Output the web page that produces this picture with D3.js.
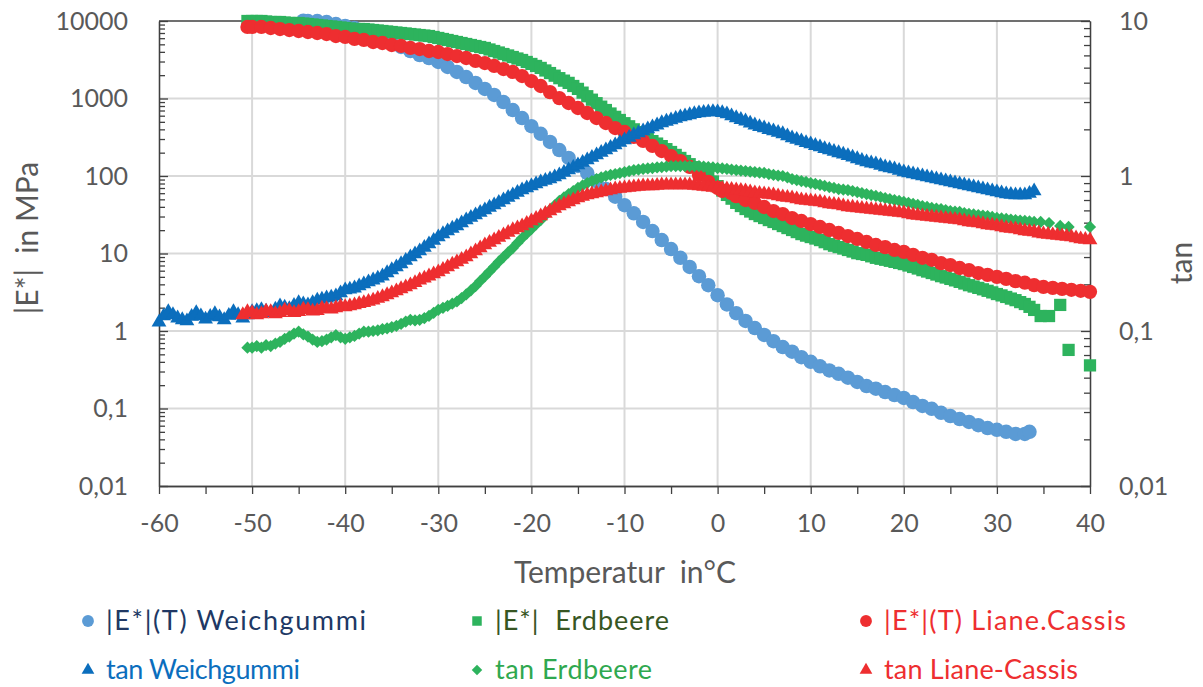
<!DOCTYPE html>
<html>
<head>
<meta charset="utf-8">
<script src="https://cdn.jsdelivr.net/npm/d3@7"></script>
<style>
body { margin: 0; background: #fff; }
svg text { font-family: Lato, "Open Sans", sans-serif; }
</style>
</head>
<body>
<svg id="chart" width="1203" height="687"></svg>
<script>
// |E*| in MPa (left axis), [temperature, value]
var eWeich = [[-44.5,10100],[-44,10000],[-43,10000],[-42,9700],[-41,9140],[-40,8620],[-39,8120],[-38,7430],[-37,6790],[-36,6040],[-35,5200],[-34,4620],[-33,4100],[-32,3640],[-31,3330],[-30,2960],[-29,2550],[-28,2200],[-27,1890],[-26,1590],[-25,1330],[-24,1110],[-23,900],[-22,710],[-21,560],[-20,440],[-19,350],[-18,275],[-17,216],[-16,171],[-15,135],[-14,109],[-13,86],[-12,68],[-11,54],[-10,42],[-9,33],[-8,25.5],[-7,19.5],[-6,14.9],[-5,11.4],[-4,8.8],[-3,6.7],[-2,5.1],[-1,3.9],[0,2.9],[1,2.2],[2,1.7],[3,1.35],[4,1.09],[5,0.89],[6,0.74],[7,0.62],[8,0.54],[9,0.46],[10,0.40],[11,0.35],[12,0.31],[13,0.28],[14,0.25],[15,0.22],[16,0.195],[17,0.18],[18,0.163],[19,0.149],[20,0.137],[21,0.121],[22,0.108],[23,0.099],[24,0.088],[25,0.080],[26,0.073],[27,0.067],[28,0.061],[29,0.056],[30,0.053],[31,0.050],[32,0.047],[33,0.047],[33.5,0.050]];
var eErd = [[-50.5,10000],[-50,10000],[-49.5,10000],[-49,10000],[-48.5,9850],[-48,9700],[-47.5,9700],[-47,9700],[-46.5,9560],[-46,9420],[-45.5,9420],[-45,9420],[-44.5,9280],[-44,9140],[-43.5,9010],[-43,8880],[-42.5,8750],[-42,8620],[-41.5,8500],[-41,8370],[-40.5,8250],[-40,8120],[-39.5,8000],[-39,7880],[-38.5,7880],[-38,7880],[-37.5,7760],[-37,7650],[-36.5,7540],[-36,7430],[-35.5,7320],[-35,7210],[-34.5,7100],[-34,7000],[-33.5,6900],[-33,6790],[-32.5,6690],[-32,6590],[-31.5,6490],[-31,6400],[-30.5,6220],[-30,6040],[-29.5,5860],[-29,5690],[-28.5,5520],[-28,5360],[-27.5,5200],[-27,5050],[-26.5,4900],[-26,4760],[-25.5,4620],[-25,4490],[-24.5,4290],[-24,4100],[-23.5,3920],[-23,3750],[-22.5,3590],[-22,3430],[-21.5,3280],[-21,3140],[-20.5,2960],[-20,2790],[-19.5,2630],[-19,2480],[-18.5,2300],[-18,2130],[-17.5,1970],[-17,1830],[-16.5,1700],[-16,1590],[-15.5,1450],[-15,1330],[-14.5,1190],[-14,1070],[-13.5,965],[-13,870],[-12.5,785],[-12,710],[-11.5,640],[-11,580],[-10.5,528],[-10,480],[-9.5,438],[-9,400],[-8.5,368],[-8,338],[-7.5,308],[-7,282],[-6.5,262],[-6,243],[-5.5,222],[-5,204],[-4.5,187],[-4,171],[-3.5,156],[-3,142],[-2.5,130],[-2,119],[-1.5,108],[-1,97],[-0.5,85],[0,74],[0.5,65],[1,57],[1.5,51],[2,45],[2.5,41],[3,37.5],[3.5,34.8],[4,32.3],[4.5,30.4],[5,28.7],[5.5,27],[6,25.5],[6.5,24],[7,22.6],[7.5,21.3],[8,20.1],[8.5,18.9],[9,17.8],[9.5,17],[10,16.3],[10.5,15.6],[11,14.9],[11.5,14],[12,13.2],[12.5,12.6],[13,12.1],[13.5,11.6],[14,11.1],[14.5,10.6],[15,10.1],[15.5,9.85],[16,9.6],[16.5,9.2],[17,8.8],[17.5,8.55],[18,8.3],[18.5,8.05],[19,7.8],[19.5,7.55],[20,7.3],[20.5,7.0],[21,6.7],[21.5,6.4],[22,6.1],[22.5,5.85],[23,5.6],[23.5,5.35],[24,5.1],[24.5,4.9],[25,4.7],[25.5,4.5],[26,4.3],[26.5,4.1],[27,3.9],[27.5,3.75],[28,3.6],[28.5,3.45],[29,3.3],[29.5,3.15],[30,3.0],[30.5,2.88],[31,2.75],[31.5,2.62],[32,2.5],[32.5,2.36],[33,2.23],[33.5,2.05],[34,1.87],[34.7,1.56],[35.6,1.56],[36.8,2.17],[37.7,0.57],[40,0.36]];
var eLiane = [[-50.5,8370],[-50,8370],[-49,8370],[-48,8120],[-47,7880],[-46,7650],[-45,7430],[-44,7210],[-43,7000],[-42,6790],[-41,6400],[-40,6220],[-39,5860],[-38,5690],[-37,5360],[-36,5200],[-35,4900],[-34,4760],[-33,4490],[-32,4350],[-31,4100],[-30,3980],[-29,3750],[-28,3530],[-27,3330],[-26,3050],[-25,2870],[-24,2630],[-23,2400],[-22,2200],[-21,1950],[-20,1680],[-19,1450],[-18,1210],[-17,1010],[-16,875],[-15,754],[-14,650],[-13,560],[-12,483],[-11,416],[-10,370],[-9,319],[-8,283],[-7,244],[-6,210],[-5,181],[-4,156],[-3,131],[-2,103],[-1,84],[0,70],[0.5,64],[1.5,60],[2,55],[3,49],[4,44.9],[5,39.8],[6,35.3],[7,32.3],[8,28.7],[9,26.3],[10,24.0],[11,22.0],[12,20.1],[13,18.4],[14,16.8],[15,15.4],[16,14.1],[17,12.9],[18,12.1],[19,11.1],[20,10.5],[21,9.6],[22,8.8],[23,8.3],[24,7.5],[25,7.1],[26,6.5],[27,6.1],[28,5.6],[29,5.3],[30,5.0],[31,4.7],[32,4.4],[33,4.2],[34,3.9],[35,3.7],[36,3.6],[37,3.5],[38,3.4],[39,3.3],[40,3.2]];

// tan (right axis), [temperature, value]
var tanWeich = [[-60,0.114],[-59.5,0.125],[-59,0.133],[-58.5,0.127],[-58,0.121],[-57.5,0.118],[-57,0.116],[-56.5,0.124],[-56,0.131],[-55.5,0.125],[-55,0.119],[-54.5,0.124],[-54,0.129],[-53.5,0.123],[-53,0.118],[-52.5,0.126],[-52,0.133],[-51.5,0.127],[-51,0.121],[-50.5,0.127],[-50,0.133],[-49.5,0.135],[-49,0.137],[-48.5,0.134],[-48,0.131],[-47.5,0.138],[-47,0.145],[-46.5,0.142],[-46,0.139],[-45.5,0.146],[-45,0.152],[-44.5,0.149],[-44,0.147],[-43.5,0.152],[-43,0.158],[-42.5,0.160],[-42,0.163],[-41.5,0.165],[-41,0.168],[-40.5,0.176],[-40,0.184],[-39.5,0.186],[-39,0.189],[-38.5,0.195],[-38,0.201],[-37.5,0.207],[-37,0.213],[-36.5,0.219],[-36,0.226],[-35.5,0.237],[-35,0.248],[-34.5,0.259],[-34,0.271],[-33.5,0.285],[-33,0.300],[-32.5,0.314],[-32,0.328],[-31.5,0.346],[-31,0.364],[-30.5,0.384],[-30,0.404],[-29.5,0.423],[-29,0.442],[-28.5,0.459],[-28,0.476],[-27.5,0.498],[-27,0.520],[-26.5,0.540],[-26,0.560],[-25.5,0.582],[-25,0.604],[-24.5,0.627],[-24,0.650],[-23.5,0.675],[-23,0.700],[-22.5,0.727],[-22,0.754],[-21.5,0.783],[-21,0.812],[-20.5,0.837],[-20,0.862],[-19.5,0.888],[-19,0.915],[-18.5,0.935],[-18,0.956],[-17.5,0.985],[-17,1.015],[-16.5,1.053],[-16,1.093],[-15.5,1.135],[-15,1.178],[-14.5,1.222],[-14,1.268],[-13.5,1.316],[-13,1.366],[-12.5,1.418],[-12,1.471],[-11.5,1.527],[-11,1.585],[-10.5,1.645],[-10,1.707],[-9.5,1.772],[-9,1.839],[-8.5,1.894],[-8,1.95],[-7.5,2.01],[-7,2.07],[-6.5,2.13],[-6,2.20],[-5.5,2.25],[-5,2.30],[-4.5,2.35],[-4,2.40],[-3.5,2.44],[-3,2.48],[-2.5,2.52],[-2,2.55],[-1.5,2.57],[-1,2.59],[-0.5,2.60],[0,2.59],[0.5,2.56],[1,2.51],[1.5,2.44],[2,2.37],[2.5,2.31],[3,2.26],[3.5,2.19],[4,2.13],[4.5,2.08],[5,2.04],[5.5,1.99],[6,1.95],[6.5,1.91],[7,1.87],[7.5,1.81],[8,1.76],[8.5,1.72],[9,1.68],[9.5,1.64],[10,1.61],[10.5,1.57],[11,1.54],[11.5,1.50],[12,1.47],[12.5,1.44],[13,1.41],[13.5,1.38],[14,1.35],[14.5,1.32],[15,1.29],[15.5,1.26],[16,1.23],[16.5,1.21],[17,1.195],[17.5,1.17],[18,1.143],[18.5,1.126],[19,1.11],[19.5,1.085],[20,1.061],[20.5,1.045],[21,1.03],[21.5,1.015],[22,1.0],[22.5,0.985],[23,0.971],[23.5,0.956],[24,0.942],[24.5,0.928],[25,0.915],[25.5,0.901],[26,0.888],[26.5,0.875],[27,0.862],[27.5,0.849],[28,0.837],[28.5,0.824],[29,0.812],[29.5,0.80],[30,0.788],[30.5,0.776],[31,0.765],[31.5,0.76],[32,0.754],[32.5,0.754],[33,0.754],[33.5,0.77],[34,0.80]];
var tanErd = [[-50.5,0.078],[-50,0.078],[-49.5,0.080],[-49,0.078],[-48.5,0.081],[-48,0.080],[-47.5,0.083],[-47,0.085],[-46.5,0.089],[-46,0.092],[-45.5,0.096],[-45,0.099],[-44.5,0.095],[-44,0.092],[-43.5,0.088],[-43,0.085],[-42.5,0.086],[-42,0.088],[-41.5,0.091],[-41,0.094],[-40.5,0.091],[-40,0.089],[-39.5,0.091],[-39,0.093],[-38.5,0.096],[-38,0.099],[-37.5,0.099],[-37,0.100],[-36.5,0.101],[-36,0.103],[-35.5,0.104],[-35,0.106],[-34.5,0.108],[-34,0.111],[-33.5,0.115],[-33,0.118],[-32.5,0.117],[-32,0.118],[-31.5,0.121],[-31,0.125],[-30.5,0.131],[-30,0.137],[-29.5,0.141],[-29,0.145],[-28.5,0.150],[-28,0.155],[-27.5,0.163],[-27,0.172],[-26.5,0.183],[-26,0.195],[-25.5,0.210],[-25,0.225],[-24.5,0.242],[-24,0.260],[-23.5,0.280],[-23,0.300],[-22.5,0.321],[-22,0.343],[-21.5,0.370],[-21,0.398],[-20.5,0.425],[-20,0.455],[-19.5,0.487],[-19,0.520],[-18.5,0.560],[-18,0.604],[-17.5,0.647],[-17,0.690],[-16.5,0.727],[-16,0.765],[-15.5,0.800],[-15,0.837],[-14.5,0.869],[-14,0.901],[-13.5,0.928],[-13,0.956],[-12.5,0.978],[-12,1.0],[-11.5,1.015],[-11,1.03],[-10.5,1.045],[-10,1.061],[-9.5,1.077],[-9,1.093],[-8.5,1.10],[-8,1.11],[-7.5,1.118],[-7,1.126],[-6.5,1.135],[-6,1.143],[-5.5,1.15],[-5,1.16],[-4.5,1.16],[-4,1.16],[-3.5,1.16],[-3,1.16],[-2.5,1.16],[-2,1.16],[-1.5,1.15],[-1,1.143],[-0.5,1.135],[0,1.126],[0.5,1.118],[1,1.11],[1.5,1.10],[2,1.093],[2.5,1.085],[3,1.077],[3.5,1.069],[4,1.061],[4.5,1.053],[5,1.046],[5.5,1.03],[6,1.015],[6.5,1.007],[7,1.0],[7.5,0.978],[8,0.956],[8.5,0.942],[9,0.928],[9.5,0.915],[10,0.901],[10.5,0.888],[11,0.875],[11.5,0.862],[12,0.849],[12.5,0.837],[13,0.824],[13.5,0.818],[14,0.812],[14.5,0.80],[15,0.788],[15.5,0.776],[16,0.765],[16.5,0.754],[17,0.743],[17.5,0.732],[18,0.721],[18.5,0.71],[19,0.700],[19.5,0.69],[20,0.680],[20.5,0.67],[21,0.660],[21.5,0.65],[22,0.640],[22.5,0.631],[23,0.622],[23.5,0.617],[24,0.612],[24.5,0.603],[25,0.594],[25.5,0.59],[26,0.586],[26.5,0.577],[27,0.569],[27.5,0.565],[28,0.560],[28.5,0.556],[29,0.552],[29.5,0.544],[30,0.536],[30.5,0.532],[31,0.528],[31.5,0.524],[32,0.520],[32.5,0.516],[33,0.513],[33.5,0.509],[34,0.505],[34.7,0.505],[35.6,0.497],[36.8,0.476],[37.7,0.469],[40,0.469]];
var tanLiane = [[-51,0.127],[-50.5,0.133],[-50,0.131],[-49.5,0.127],[-49,0.129],[-48.5,0.134],[-48,0.133],[-47.5,0.129],[-47,0.131],[-46.5,0.136],[-46,0.135],[-45.5,0.131],[-45,0.133],[-44.5,0.138],[-44,0.137],[-43.5,0.134],[-43,0.135],[-42.5,0.140],[-42,0.139],[-41.5,0.138],[-41,0.141],[-40.5,0.144],[-40,0.143],[-39.5,0.145],[-39,0.147],[-38.5,0.150],[-38,0.152],[-37.5,0.155],[-37,0.158],[-36.5,0.162],[-36,0.166],[-35.5,0.171],[-35,0.176],[-34.5,0.181],[-34,0.187],[-33.5,0.192],[-33,0.198],[-32.5,0.205],[-32,0.213],[-31.5,0.219],[-31,0.226],[-30.5,0.233],[-30,0.240],[-29.5,0.249],[-29,0.259],[-28.5,0.269],[-28,0.279],[-27.5,0.289],[-27,0.300],[-26.5,0.314],[-26,0.328],[-25.5,0.343],[-25,0.359],[-24.5,0.372],[-24,0.386],[-23.5,0.401],[-23,0.416],[-22.5,0.432],[-22,0.449],[-21.5,0.462],[-21,0.476],[-20.5,0.494],[-20,0.513],[-19.5,0.532],[-19,0.552],[-18.5,0.573],[-18,0.594],[-17.5,0.617],[-17,0.640],[-16.5,0.660],[-16,0.680],[-15.5,0.70],[-15,0.721],[-14.5,0.737],[-14,0.754],[-13.5,0.765],[-13,0.777],[-12.5,0.788],[-12,0.800],[-11.5,0.812],[-11,0.824],[-10.5,0.83],[-10,0.837],[-9.5,0.843],[-9,0.849],[-8.5,0.855],[-8,0.862],[-7.5,0.862],[-7,0.862],[-6.5,0.869],[-6,0.875],[-5.5,0.875],[-5,0.875],[-4.5,0.875],[-4,0.875],[-3.5,0.875],[-3,0.875],[-2.5,0.869],[-2,0.862],[-1.5,0.855],[-1,0.849],[-0.5,0.843],[0,0.837],[0.5,0.83],[1,0.824],[1.5,0.818],[2,0.812],[2.5,0.806],[3,0.800],[3.5,0.788],[4,0.777],[4.5,0.771],[5,0.765],[5.5,0.76],[6,0.754],[6.5,0.743],[7,0.732],[7.5,0.727],[8,0.721],[8.5,0.71],[9,0.700],[9.5,0.695],[10,0.690],[10.5,0.685],[11,0.680],[11.5,0.67],[12,0.660],[12.5,0.655],[13,0.650],[13.5,0.64],[14,0.631],[14.5,0.627],[15,0.622],[15.5,0.617],[16,0.612],[16.5,0.608],[17,0.604],[17.5,0.599],[18,0.594],[18.5,0.59],[19,0.586],[19.5,0.581],[20,0.577],[20.5,0.568],[21,0.560],[21.5,0.556],[22,0.552],[22.5,0.548],[23,0.544],[23.5,0.54],[24,0.536],[24.5,0.532],[25,0.528],[25.5,0.524],[26,0.520],[26.5,0.512],[27,0.505],[27.5,0.501],[28,0.497],[28.5,0.49],[29,0.483],[29.5,0.48],[30,0.476],[30.5,0.469],[31,0.462],[31.5,0.458],[32,0.455],[32.5,0.448],[33,0.442],[33.5,0.438],[34,0.435],[34.5,0.428],[35,0.422],[35.5,0.419],[36,0.416],[36.5,0.413],[37,0.410],[37.5,0.407],[38,0.404],[38.5,0.398],[39,0.392],[39.5,0.389],[40,0.386]];

var xTicks = [-60,-50,-40,-30,-20,-10,0,10,20,30,40];
var leftTicks = [0.01,0.1,1,10,100,1000,10000];
var rightTicks = [0.01,0.1,1,10];
var legendLabels = ["|E*|(T) Weichgummi", "|E*|  Erdbeere", "|E*|(T) Liane.Cassis",
                    "tan Weichgummi", "tan Erdbeere", "tan Liane-Cassis"];

var margin = {top: 21, right: 113, bottom: 201, left: 159},
    width = 1203 - margin.left - margin.right,
    height = 687 - margin.top - margin.bottom;

var lightBlue = "#5B9BD5", green = "#2DB35D", red = "#EE2E30", blue = "#0B6EBD", gray = "#595959";

var svg = d3.select("#chart")
  .append("g")
    .attr("transform", "translate(" + margin.left + "," + margin.top + ")");

var x = d3.scaleLinear().domain([-60, 40]).range([0, width]);
var yL = d3.scaleLog().domain([0.01, 10000]).range([height, 0]);
var yR = d3.scaleLog().domain([0.01, 10]).range([height, 0]);

var fmt = function(d){ return String(d).replace(".", ","); }

// grid
svg.append("g").selectAll("line").data(xTicks.slice(1, -1)).enter().append("line")
  .attr("x1", function(d){ return x(d); }).attr("x2", function(d){ return x(d); })
  .attr("y1", 0).attr("y2", height)
  .attr("stroke", "#D9D9D9").attr("stroke-width", 2);
svg.append("g").selectAll("line").data(leftTicks.slice(1, -1)).enter().append("line")
  .attr("x1", 0).attr("x2", width)
  .attr("y1", function(d){ return yL(d); }).attr("y2", function(d){ return yL(d); })
  .attr("stroke", "#D9D9D9").attr("stroke-width", 2);

// minor ticks for the log axes
var minorOf = function(ticks){
  var m = [];
  ticks.slice(0, -1).forEach(function(t){
    [2,3,4,5,6,7,8,9].forEach(function(k){ m.push(t * k); });
  });
  return m;
}
var xMinor = xTicks.slice(0, -1).map(function(d){ return d + 5; });

var styleAxis = function(g){
  g.selectAll("path").attr("stroke", "#404040").attr("stroke-width", 1.3);
  g.selectAll("line").attr("stroke", "#404040").attr("stroke-width", 1.3);
  g.selectAll("text").attr("fill", gray).style("font-size", "25px");
}

svg.append("g")
  .call(d3.axisLeft(yL).tickValues(leftTicks).tickSize(-9).tickSizeOuter(0).tickPadding(31).tickFormat(fmt))
  .call(styleAxis);
svg.append("g")
  .call(d3.axisLeft(yL).tickValues(minorOf(leftTicks)).tickSize(-6).tickSizeOuter(0).tickFormat(""))
  .call(styleAxis);

svg.append("g")
  .attr("transform", "translate(" + width + ",0)")
  .call(d3.axisRight(yR).tickValues(rightTicks).tickSize(-9).tickSizeOuter(0).tickPadding(29).tickFormat(fmt))
  .call(styleAxis);
svg.append("g")
  .attr("transform", "translate(" + width + ",0)")
  .call(d3.axisRight(yR).tickValues(minorOf(rightTicks)).tickSize(-6).tickSizeOuter(0).tickFormat(""))
  .call(styleAxis);

svg.append("g")
  .attr("transform", "translate(0," + height + ")")
  .call(d3.axisBottom(x).tickValues(xTicks).tickSize(8).tickSizeOuter(0).tickPadding(20).tickFormat(function(d){ return d; }))
  .call(styleAxis);
svg.append("g")
  .attr("transform", "translate(0," + height + ")")
  .call(d3.axisBottom(x).tickValues(xMinor).tickSize(8).tickSizeOuter(0).tickFormat(""))
  .call(styleAxis);

// top border
svg.append("line").attr("x1", 0).attr("x2", width).attr("y1", 0).attr("y2", 0)
  .attr("stroke", "#404040").attr("stroke-width", 1.3);

// series
var drawSeries = function(data, yScale, type, size, color, rot){
  svg.append("g").selectAll("path").data(data).enter().append("path")
    .attr("d", d3.symbol().type(type).size(size))
    .attr("transform", function(d){
      return "translate(" + x(d[0]) + "," + yScale(d[1]) + ")" + (rot ? " rotate(45)" : "");
    })
    .attr("fill", color);
}
drawSeries(eWeich, yL, d3.symbolCircle, 165, lightBlue);
drawSeries(eErd, yL, d3.symbolSquare, 150, green);
drawSeries(eLiane, yL, d3.symbolCircle, 160, red);
drawSeries(tanWeich, yR, d3.symbolTriangle, 95, blue);
drawSeries(tanErd, yR, d3.symbolSquare, 75, green, true);
drawSeries(tanLiane, yR, d3.symbolTriangle, 95, red);

// axis titles
var root = d3.select("#chart");
root.append("text")
  .attr("transform", "translate(38,238) rotate(-90)")
  .attr("text-anchor", "middle")
  .style("white-space", "pre")
  .style("font-size", "30px").attr("fill", gray)
  .text("|E*|  in MPa");
root.append("text")
  .attr("transform", "translate(1192,263) rotate(-90)")
  .attr("text-anchor", "middle")
  .style("font-size", "30px").attr("fill", gray)
  .text("tan");
root.append("text")
  .attr("x", 625).attr("y", 583)
  .attr("text-anchor", "middle")
  .style("white-space", "pre")
  .style("font-size", "30px").attr("fill", gray)
  .text("Temperatur  in°C");

// legend
var legendX = [88, 477, 866], legendY = [621, 670];
var legendW = [260, 174, 242, 194, 157, 194];
var legendSym = [d3.symbolCircle, d3.symbolSquare, d3.symbolCircle, d3.symbolTriangle, d3.symbolSquare, d3.symbolTriangle];
var legendSize = [110, 90, 110, 70, 55, 70];
var legendFill = [lightBlue, green, red, blue, green, red];
var legendText = ["#203864", "#375623", red, blue, "#2FA84F", red];

legendLabels.forEach(function(lab, i){
  var lx = legendX[i % 3], ly = legendY[Math.floor(i / 3)];
  root.append("path")
    .attr("d", d3.symbol().type(legendSym[i]).size(legendSize[i]))
    .attr("transform", "translate(" + lx + "," + ly + ")" + (i == 4 ? " rotate(45)" : ""))
    .attr("fill", legendFill[i]);
  root.append("text")
    .attr("x", lx + 18).attr("y", ly).attr("dy", "0.34em")
    .attr("textLength", legendW[i]).attr("lengthAdjust", "spacing")
    .style("white-space", "pre")
    .style("font-size", "27px")
    .attr("fill", legendText[i])
    .text(lab);
});
</script>
</body>
</html>
